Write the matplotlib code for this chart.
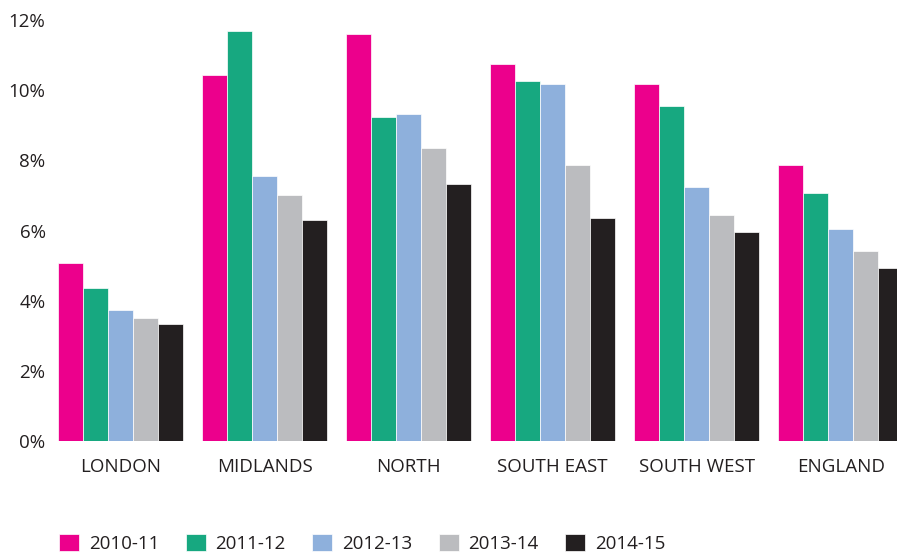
import matplotlib.pyplot as plt
import numpy as np

# Regions and yearly values (percent)
regions = ["LONDON", "MIDLANDS", "NORTH", "SOUTH EAST", "SOUTH WEST", "ENGLAND"]
years = ["2010-11", "2011-12", "2012-13", "2013-14", "2014-15"]
v2010 = [5.07, 10.43, 11.60, 10.74, 10.17, 7.86]
v2011 = [4.36, 11.68, 9.23, 10.26, 9.54, 7.07]
v2012 = [3.73, 7.55, 9.32, 10.17, 7.24, 6.04]
v2013 = [3.50, 7.01, 8.35, 7.86, 6.44, 5.41]
v2014 = [3.33, 6.30, 7.32, 6.35, 5.95, 4.93]
colors = ["#EC008C", "#17A880", "#8EB0DC", "#BBBCBF", "#231F20"]

plt.rcParams["font.family"] = ["Open Sans", "DejaVu Sans"]

fig = plt.figure(figsize=(8.97, 5.53), dpi=100)
ax = fig.add_axes([58 / 897, 1 - 441 / 553, 1 - 58 / 897, (441 - 20) / 553])

x = np.arange(len(regions))
width = 0.174
series = [v2010, v2011, v2012, v2013, v2014]
for i, vals in enumerate(series):
    ax.bar(x + (i - 2) * width, vals, width, color=colors[i], label=years[i],
           edgecolor="white", linewidth=0.5)

ax.set_ylim(0, 12)
ax.set_xlim(-0.434, 5.39)
ax.set_yticks(range(0, 13, 2))
ax.set_yticklabels([f"{t}%" for t in range(0, 13, 2)])
ax.set_xticks(x)
ax.set_xticklabels(regions)
ax.tick_params(axis="y", length=0, pad=9, labelsize=13.5, labelcolor="#231F20")
ax.tick_params(axis="x", length=0, pad=12, labelsize=13.5, labelcolor="#231F20")
for s in ax.spines.values():
    s.set_visible(False)

handles, labels = ax.get_legend_handles_labels()
fig.legend(handles, labels, loc="lower left", bbox_to_anchor=(59 / 897, 0.0), ncol=5,
           frameon=False, borderpad=0, borderaxespad=0,
           handlelength=1.07, handleheight=0.95, handletextpad=0.53,
           columnspacing=1.4, fontsize=13.5, labelcolor="#231F20")

fig.savefig("out.png", dpi=100)
